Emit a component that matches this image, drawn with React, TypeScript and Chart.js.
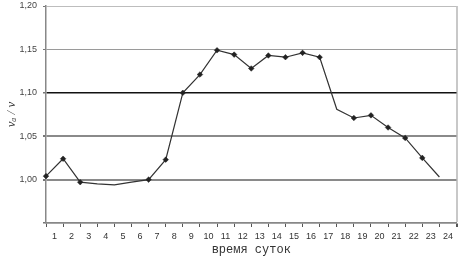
import React, { useEffect, useRef } from "react";
import { Chart, registerables } from "chart.js";

Chart.register(...registerables);

const categories = ["1","2","3","4","5","6","7","8","9","10","11","12","13","14","15","16","17","18","19","20","21","22","23","24"];
const ratioValues = [1.004, 1.024, 0.997, 0.995, 0.994, 0.997, 1.0, 1.023, 1.1, 1.121, 1.149, 1.144, 1.128, 1.143, 1.141, 1.146, 1.141, 1.081, 1.071, 1.074, 1.06, 1.048, 1.025, 1.003];
const markerShown = [1, 1, 1, 0, 0, 0, 1, 1, 1, 1, 1, 1, 1, 1, 1, 1, 1, 0, 1, 1, 1, 1, 1, 0];
const yTicks = [0.95, 1.0, 1.05, 1.1, 1.15, 1.2];
const yTitle = "vₐ / v";
const xTitle = "время суток";

export default function App() {
  const ref = useRef<HTMLCanvasElement | null>(null);
  useEffect(() => {
    document.body.style.margin = "0";
    const canvas = ref.current!;
    const gridColors = ["#888", "#8a8a8a", "#8a8a8a", "#111", "#9a9a9a", "#bdbdbd"];
    const gridWidths = [1.5, 2, 2, 1.5, 1, 1];
    const chart = new Chart(canvas, {
      type: "line",
      data: {
        labels: [...categories, ""],
        datasets: [
          {
            data: ratioValues,
            borderColor: "#333",
            borderWidth: 1.2,
            pointStyle: "rectRot",
            pointRadius: markerShown.map((m) => (m ? 2.8 : 0)),
            pointBackgroundColor: "#222",
            pointBorderColor: "#222",
            pointBorderWidth: 0.5,
            tension: 0,
          },
        ],
      },
      options: {
        animation: false,
        responsive: false,
        layout: { padding: { top: 6, right: 4, bottom: 0, left: 0 } },
        plugins: { legend: { display: false }, tooltip: { enabled: false } },
        scales: {
          x: {
            type: "category",
            offset: false,
            afterFit: (s: any) => {
              s.height = 35;
            },
            border: { color: "#888", width: 1.5 },
            grid: {
              offset: false,
              color: (c: any) => (c.index === 24 ? "#c8c8c8" : "rgba(0,0,0,0)"),
              lineWidth: (c: any) => (c.index === 24 ? 2 : 1),
              tickColor: "#555",
              tickLength: 4,
            },
            ticks: {
              autoSkip: false,
              maxRotation: 0,
              labelOffset: 8.5,
              padding: 4,
              color: "#333",
              font: { family: "Liberation Sans", size: 9 },
            },
            title: {
              display: true,
              text: xTitle,
              color: "#333",
              font: { family: "Liberation Mono", size: 12 },
              padding: { top: 0, bottom: 1 },
            },
          },
          y: {
            min: 0.95,
            max: 1.2,
            afterBuildTicks: (s: any) => {
              s.ticks = yTicks.map((v) => ({ value: v }));
            },
            afterFit: (s: any) => {
              s.width = 46;
              s.paddingTop = 0;
              s.paddingBottom = 0;
            },
            border: { color: "#888", width: 1.5 },
            grid: {
              color: (c: any) => gridColors[c.index] ?? "#999",
              lineWidth: (c: any) => gridWidths[c.index] ?? 1,
              tickColor: "#777",
              tickLength: 3,
            },
            ticks: {
              padding: 6,
              color: "#444",
              font: { family: "Liberation Sans", size: 9 },
              callback: (v: any, i: number) => (i === 0 ? "" : Number(v).toFixed(2).replace(".", ",")),
            },
            title: {
              display: true,
              text: yTitle,
              color: "#333",
              font: { family: "Liberation Serif", size: 13, style: "italic" },
              padding: { top: 4, bottom: 0 },
            },
          },
        },
      },
    });
    return () => chart.destroy();
  }, []);
  return <canvas ref={ref} width={461} height={258} style={{ display: "block" }} />;
}
